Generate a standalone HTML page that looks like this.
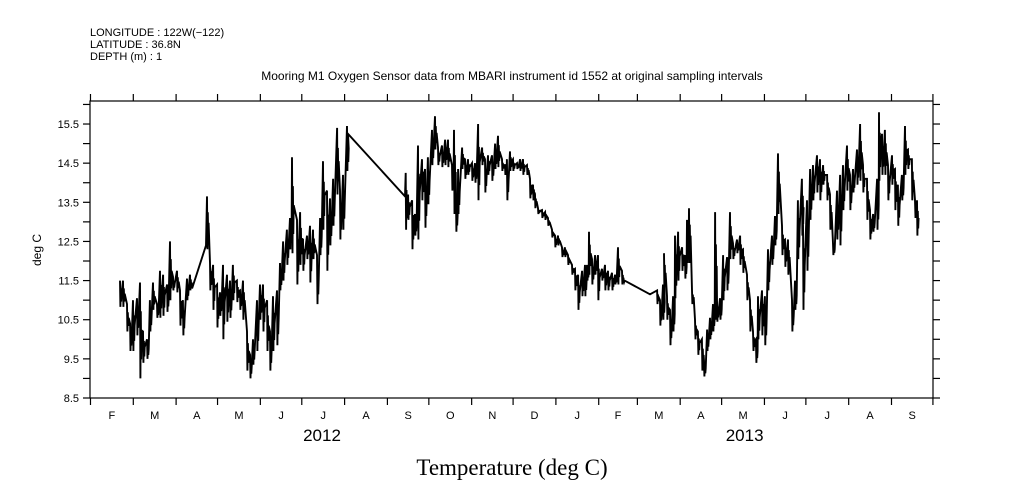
<!DOCTYPE html>
<html><head><meta charset="utf-8"><style>
html,body{margin:0;padding:0;background:#fff;}
svg{display:block;font-family:"Liberation Sans",sans-serif;}
</style></head><body>
<svg id="chart" width="1009" height="504" viewBox="0 0 1009 504" xmlns="http://www.w3.org/2000/svg">
<rect width="1009" height="504" fill="#fff"/>
<g font-size="11" fill="#000">
<text x="90" y="36">LONGITUDE : 122W(−122)</text>
<text x="90" y="48">LATITUDE : 36.8N</text>
<text x="90" y="60">DEPTH (m) : 1</text>
</g>
<text x="512" y="80" font-size="12" text-anchor="middle">Mooring M1 Oxygen Sensor data from MBARI instrument id 1552 at original sampling intervals</text>
<text transform="translate(41,250) rotate(-90)" font-size="12" text-anchor="middle">deg C</text>
<text x="512" y="475" font-size="23" text-anchor="middle" font-family="Liberation Serif, serif">Temperature (deg C)</text>
<g id="axes"></g>
<g id="series"></g>
</svg>
<script>
const days=[21.7,23.9,26.8,29.0,31.1,34.0,36.2,38.4,41.3,43.4,45.6,48.5,50.7,52.9,55.8,57.9,60.1,63.0,65.2,67.3,70.2,72.4,73.9,84.0,84.7,86.9,89.1,92.0,94.1,96.3,99.2,101.4,103.5,106.4,108.6,110.8,113.7,115.9,118.0,120.9,123.1,125.3,128.2,130.3,132.5,135.4,137.6,139.8,142.6,144.8,146.3,149.9,152.1,154.2,157.1,159.3,161.5,164.4,166.6,168.7,171.6,173.8,176.0,178.9,181.0,183.2,186.1,186.8,
228.1,228.6,230.3,233.2,235.3,237.5,240.4,242.6,244.7,247.6,249.8,252.0,254.9,257.1,259.2,262.1,263.6,265.0,266.5,269.4,271.5,273.7,276.6,278.8,281.0,283.9,286.0,288.2,291.1,293.3,295.4,298.3,300.5,301.9,304.1,306.3,309.2,311.4,313.5,316.4,318.6,320.8,322.2,324.4,327.3,329.5,331.6,334.5,336.7,338.9,341.8,343.9,346.1,349.0,351.2,353.4,356.3,358.4,359.9,361.3,363.5,365.7,367.8,370.7,372.9,375.1,378.0,380.2,382.3,385.2,385.9,
405.5,410.6,412.7,414.9,415.6,417.8,420.0,422.2,423.6,425.8,428.7,430.8,432.3,433.7,435.9,438.1,440.2,443.1,444.6,446.8,448.9,451.1,452.6,454.0,456.2,458.4,461.3,463.4,465.6,468.5,470.7,472.8,475.7,477.9,480.1,482.2,483.7,486.6,488.7,490.9,493.8,496.0,498.2,501.1,503.2,505.4,508.3,510.5,512.6,515.5,516.3,519.2,521.4,523.5,526.4,528.6,530.8,533.7,535.8,538.0,540.9,543.1,545.2,548.1,550.3,552.5,555.4,557.6,559.7,562.6,564.8,567.0,569.9,571.3,573.5,575.6,577.8,580.7,582.9,585.0,587.9,590.1,592.3,595.1,597.4,598.8];
const hi=[11.5,11.5,10.9,10.4,11.0,11.05,11.45,10.2,10.0,11.0,11.45,10.9,11.75,11.65,11.4,12.5,11.6,11.75,11.25,11.0,11.55,11.65,11.3,12.4,13.65,11.95,11.9,11.4,11.2,11.9,11.65,11.5,11.9,11.5,11.25,11.5,10.2,9.6,10.0,11.0,11.4,11.4,11.0,10.2,11.1,11.25,11.95,12.5,12.8,13.1,14.65,13.05,13.25,12.55,12.65,12.9,12.8,12.15,13.1,14.55,13.8,13.6,14.1,15.4,13.8,14.2,15.45,15.25,
13.65,14.25,13.7,13.55,13.2,14.95,14.6,14.35,14.65,15.35,15.7,14.9,14.95,15.1,15.1,14.45,15.35,13.55,14.35,14.9,14.6,14.6,14.5,14.5,15.5,14.9,14.6,14.7,14.7,15.0,15.2,14.6,14.45,14.6,14.8,14.6,14.5,14.6,14.6,14.45,14.1,13.95,13.7,13.35,13.3,13.25,13.1,12.8,12.65,12.65,12.35,12.35,12.15,11.9,11.8,11.65,11.75,11.9,11.9,12.75,12.05,12.15,12.15,11.8,11.9,11.75,11.7,11.65,12.35,11.75,11.55,
11.15,11.25,11.0,11.4,12.2,11.1,10.75,11.1,12.65,12.75,12.35,12.15,13.05,13.35,11.25,10.5,10.2,10.0,9.45,10.25,10.55,10.9,13.25,11.0,11.05,12.15,12.1,13.25,12.45,12.55,12.65,12.3,11.65,11.0,10.2,10.0,11.1,11.25,11.1,12.3,12.65,13.15,14.75,12.9,12.55,12.55,11.0,11.5,13.55,14.1,13.0,13.55,14.35,14.45,14.7,14.6,14.45,14.2,13.7,12.45,13.8,14.2,14.45,14.95,14.2,14.35,14.85,15.5,14.45,14.1,13.3,13.2,14.1,15.8,15.25,15.35,14.45,14.7,14.35,13.95,14.2,15.45,14.85,14.6,13.55,13.55];
const lo=[10.83,10.83,10.2,9.7,9.7,10.1,9.0,9.4,9.5,10.2,10.75,10.55,10.55,10.6,10.7,11.0,11.25,11.2,10.35,10.1,11.0,11.25,11.3,12.4,12.3,11.25,10.75,10.3,10.6,10.0,10.45,10.55,11.0,10.95,10.75,10.5,9.2,9.0,9.35,9.7,10.5,10.2,9.7,9.2,9.7,9.85,11.25,11.5,11.9,12.3,12.2,11.4,11.9,11.75,12.05,11.45,12.05,10.9,12.15,12.8,11.75,12.4,12.9,13.7,12.55,12.8,14.3,15.25,
13.65,12.8,13.05,12.3,12.65,12.55,13.55,12.85,13.45,14.45,14.85,14.45,14.4,14.45,14.4,13.8,13.2,12.75,13.2,14.35,14.1,14.2,14.05,14.0,13.55,14.45,13.75,14.2,14.05,14.35,14.4,14.3,14.2,13.55,14.3,14.3,14.35,14.3,14.2,14.2,13.6,13.55,13.35,13.2,13.1,13.05,12.9,12.6,12.35,12.4,12.1,12.1,11.9,11.65,11.25,10.75,11.1,11.1,11.5,11.65,11.4,11.65,11.0,11.5,11.25,11.25,11.25,11.4,11.4,11.4,11.45,
11.15,10.9,10.35,10.5,11.2,10.5,9.85,10.2,11.05,11.5,11.75,11.55,11.95,11.95,10.9,10.0,9.6,9.2,9.05,9.7,10.0,10.2,10.5,10.45,10.5,11.0,11.25,12.05,12.05,12.2,11.9,11.7,11.0,10.2,9.7,9.4,10.0,10.1,9.85,11.25,11.9,12.4,13.2,12.15,11.85,11.65,10.2,10.75,12.05,12.65,10.75,11.75,13.05,13.55,13.75,13.55,13.95,13.55,12.8,12.15,12.55,12.4,13.3,13.8,13.3,13.75,13.95,14.05,13.75,13.05,12.55,12.75,12.8,14.05,14.2,14.2,13.55,13.95,13.3,12.9,13.55,14.2,14.35,13.55,13.1,12.65];
const monthTickDays=[0.35,31.35,62.35,92.35,123.35,153.35,184.35,215.35,245.35,276.35,306.35,337.35,368.35,396.35,427.35,457.35,488.35,518.35,549.35,580.35,610.35];
const monthLabels=["F","M","A","M","J","J","A","S","O","N","D","J","F","M","A","M","J","J","A","S"];
const yearLabels=["2012","2013"];
const yearLabelDays=[168,474];
const yMajorTicks=[8.5,9.5,10.5,11.5,12.5,13.5,14.5,15.5];
const yMinorTicks=[9,10,11,12,13,14,15,16];

const L=90,R=933,T=101,B=398,D0=0,D1=610.4,V0=8.5,V1=8.5+(B-T)/39.14;
const xS=d=>L+(d-D0)/(D1-D0)*(R-L);
const yS=v=>B-(v-V0)/(V1-V0)*(B-T);
const NS="http://www.w3.org/2000/svg";
const ax=document.getElementById('axes');
function mk(tag,attrs,parent){const e=document.createElementNS(NS,tag);for(const k in attrs)e.setAttribute(k,attrs[k]);parent.appendChild(e);return e;}
const frame=mk('rect',{x:L,y:T,width:R-L,height:B-T,fill:'none',stroke:'#000','stroke-width':1.2},ax);


monthTickDays.forEach(d=>{
  const x=xS(d);
  const t1=mk('line',{x1:x,x2:x,y1:B,y2:B+7,stroke:'#000','stroke-width':1.2},ax);
  
  
  const t2=mk('line',{x1:x,x2:x,y1:T,y2:T-7,stroke:'#000','stroke-width':1.2},ax);
  
  
});
monthLabels.forEach((m,i)=>{
  const x=(xS(monthTickDays[i])+xS(monthTickDays[i+1]))/2;
  const t=mk('text',{x:x,y:419,'font-size':11,'text-anchor':'middle'},ax);
  t.textContent=m;
  
  
});
yearLabels.forEach((yl,i)=>{
  const t=mk('text',{x:xS(yearLabelDays[i]),y:441,'font-size':17,'text-anchor':'middle'},ax);
  t.textContent=yl;
  
  
});
yMajorTicks.forEach(v=>{
  const y=yS(v);
  const a=mk('line',{x1:L-7,x2:L,y1:y,y2:y,stroke:'#000','stroke-width':1.2},ax);
  
  
  const b=mk('line',{x1:R,x2:R+7,y1:y,y2:y,stroke:'#000','stroke-width':1.2},ax);
  
  
  const t=mk('text',{x:L-11,y:y+4,'font-size':11,'text-anchor':'end'},ax);
  t.textContent=v.toFixed(1);
  
  
});
yMinorTicks.forEach(v=>{
  const y=yS(v);
  if(y<T)return;
  const a=mk('line',{x1:L-7,x2:L,y1:y,y2:y,stroke:'#000','stroke-width':1.2},ax);
  
  
  const b=mk('line',{x1:R,x2:R+7,y1:y,y2:y,stroke:'#000','stroke-width':1.2},ax);
  
  
});
let dstr='';
days.forEach((d,i)=>{
  dstr+=(i?'L':'M')+xS(d).toFixed(1)+','+yS(hi[i]).toFixed(1);
  if(lo[i]!==hi[i]){
    const m=(hi[i]+lo[i])/2;
    dstr+='L'+xS(d+0.3).toFixed(1)+','+yS(lo[i]).toFixed(1)+'L'+xS(d+0.6).toFixed(1)+','+yS(hi[i]*0.7+lo[i]*0.3).toFixed(1)+'L'+xS(d+0.9).toFixed(1)+','+yS(lo[i]*0.8+hi[i]*0.2).toFixed(1)+'L'+xS(d+1.2).toFixed(1)+','+yS(m).toFixed(1);
  }
});
const p=mk('path',{d:dstr,fill:'none',stroke:'#000','stroke-width':1.9,'stroke-linejoin':'miter'},document.getElementById('series'));


</script>
</body></html>
